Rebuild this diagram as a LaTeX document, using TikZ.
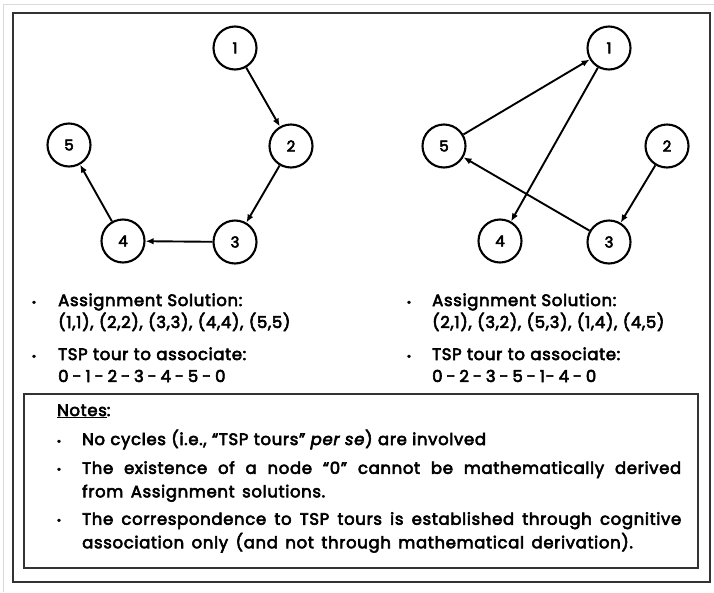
\documentclass[tikz,border=0pt]{standalone}
\usepackage{fontspec}
\usetikzlibrary{arrows.meta}
\newfontfamily\gfont{Poppins}[FakeBold=3.5,LetterSpace=4]
\newfontfamily\vfont{Poppins}[FakeBold=3.5]
\newcommand\spA{\spaceskip=5.4pt\relax}
\newcommand\spB{\spaceskip=3.9pt\relax}
\newcommand\spC{\spaceskip=7.5pt plus 4pt minus 1.5pt\relax\hyphenpenalty=10000\relax}
\begin{document}
\begin{tikzpicture}[x=1pt,y=-1pt,
  font=\gfont\fontsize{16.5}{18}\selectfont,
  vtx/.style={circle,draw,line width=2.1pt,minimum size=43pt,inner sep=0pt,font=\vfont\fontsize{15}{16}\selectfont},
  arr/.style={-{Latex[length=8pt,width=6.5pt]},line width=1.9pt},
  txt/.style={anchor=base west,inner sep=0pt,execute at begin node=\spA},
  tour/.style={anchor=base west,inner sep=0pt,execute at begin node=\spB},
  para/.style={anchor=north west,inner sep=0pt,text width=599pt,align=justify,font=\gfont\fontsize{16.5}{23.5}\selectfont,execute at begin node=\spC},
  bul/.style={anchor=base,inner sep=0pt,font=\vfont\fontsize{11}{12}\selectfont}]
\useasboundingbox (0,0) rectangle (714,592);
\draw[black!15,line width=0.8pt] (3,592) -- (3,4) -- (714,4);
\draw[black!80,line width=2.2pt] (13,13) rectangle (710,582);
\draw[black!80,line width=1.8pt] (24,394) rectangle (698,568);
% left graph
\node[vtx] (a1) at (235,48) {1};
\node[vtx] (a2) at (291,146) {2};
\node[vtx] (a5) at (69,145) {5};
\node[vtx] (a4) at (123,241) {4};
\node[vtx] (a3) at (235,242) {3};
\draw[arr] (a1) -- (a2);
\draw[arr] (a2) -- (a3);
\draw[arr] (a3) -- (a4);
\draw[arr] (a4) -- (a5);
% right graph
\node[vtx] (b1) at (609,48) {1};
\node[vtx] (b5) at (444,146) {5};
\node[vtx] (b2) at (667,146) {2};
\node[vtx] (b4) at (500,241) {4};
\node[vtx] (b3) at (609,242) {3};
\draw[arr] (b5) -- (b1);
\draw[arr] (b1) -- (b4);
\draw[arr] (b2) -- (b3);
\draw[arr] (b3) -- (b5);
% left text
\node[bul] (lb1) at (34,306) {•};
\node[txt] (lt1) at (58,306) {Assignment Solution:};
\node[txt] (lt2) at (58,328) {(1,1), (2,2), (3,3), (4,4), (5,5)};
\node[bul] (lb2) at (34,360) {•};
\node[txt] (lt3) at (58,360) {TSP tour to associate:};
\node[tour] (lt4) at (58,382) {0 - 1 - 2 - 3 - 4 - 5 - 0};
% right text
\node[bul] (rb1) at (409,306) {•};
\node[txt] (rt1) at (432,306) {Assignment Solution:};
\node[txt] (rt2) at (432,328) {(2,1), (3,2), (5,3), (1,4), (4,5)};
\node[bul] (rb2) at (409,360) {•};
\node[txt] (rt3) at (432,360) {TSP tour to associate:};
\node[tour] (rt4) at (432,382) {0 - 2 - 3 - 5 - 1- 4 - 0};
% notes
\node[txt] (nh) at (57,416) {\underline{Notes}:};
\node[bul] (nb1) at (59,445) {•};
\node[txt] (n1) at (82,445) {No cycles (i.e., “TSP tours” \textit{per se}) are involved};
\node[bul] (nb2) at (59,473) {•};
\node[para] (n2) at (82,461) {The existence of a node “0” cannot be mathematically derived from Assignment solutions.};
\node[bul] (nb3) at (59,524) {•};
\node[para] (n3) at (82,512) {The correspondence to TSP tours is established through cognitive association only (and not through mathematical derivation).};
\end{tikzpicture}
\end{document}
